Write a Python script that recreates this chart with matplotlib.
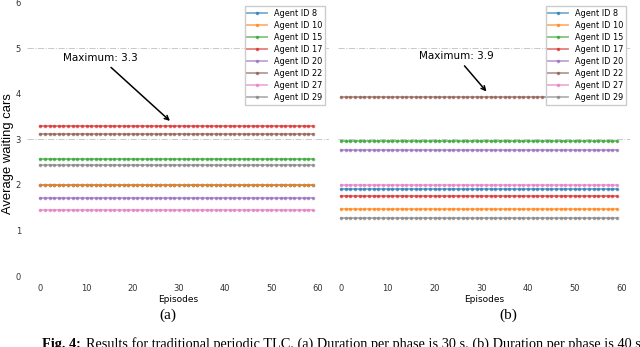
import numpy as np
import matplotlib.pyplot as plt

episodes = np.arange(0, 60)
agent_ids = [8, 10, 15, 17, 20, 22, 27, 29]

# average waiting cars per agent (constant over episodes for periodic TLC)
wait_30s = [2.00, 2.00, 2.56, 3.28, 1.71, 3.11, 1.44, 2.43]
wait_40s = [1.91, 1.48, 2.95, 1.75, 2.76, 3.92, 2.00, 1.28]

max_labels = ["Maximum: 3.3", "Maximum: 3.9"]
panel_labels = ["(a)", "(b)"]
caption_bold = "Fig. 4:"
caption_text = ("Results for traditional periodic TLC. (a) Duration per phase is 30 s. "
                "(b) Duration per phase is 40 s.")

colors = plt.get_cmap("tab10").colors

W, H = 640, 347
fig = plt.figure(figsize=(6.4, 3.47), dpi=100)
ax_a = fig.add_axes([27 / W, 1 - 276 / H, 302 / W, 273.6 / H])
ax_b = fig.add_axes([337.7 / W, 1 - 276 / H, 292.3 / W, 273.6 / H])


def draw_panel(ax, values, xlim, show_y):
    for aid, v, c in zip(agent_ids, values, colors):
        ax.plot(episodes, np.full(len(episodes), v), color=c, marker="o",
                markersize=1.6, lw=1.3, alpha=0.6, label=f"Agent ID {aid}")
    for yy in [0, 3, 5]:
        ax.axhline(yy, color="#c8c8c8", ls="-.", lw=0.7, zorder=0)
    ax.set_xlim(*xlim)
    ax.set_ylim(0, 6)
    ax.set_xticks(range(0, 61, 10))
    ax.set_yticks(range(0, 7))
    for s in ax.spines.values():
        s.set_visible(False)
    ax.tick_params(length=0, labelsize=6, colors="#333333")
    ax.tick_params(axis="x", pad=6)
    ax.tick_params(axis="y", pad=4.3)
    if not show_y:
        ax.tick_params(labelleft=False)
    ax.set_xlabel("Episodes", fontsize=6.5, labelpad=1)
    ax.legend(loc="upper right", fontsize=5.9, handlelength=2.4, labelspacing=0.36,
              borderpad=0.35, framealpha=1, edgecolor="#cccccc", fancybox=False)


draw_panel(ax_a, wait_30s, (-2.9, 62.5), True)
draw_panel(ax_b, wait_40s, (-0.7, 61.8), False)

ax_a.set_ylabel("Average waiting cars", fontsize=9.4, family="Liberation Sans")
ax_a.yaxis.set_label_coords(-0.044, 0.446)

ax_a.annotate(max_labels[0], xy=(28.5, 3.36), xytext=(13, 4.72), fontsize=7.5,
              ha="center", arrowprops=dict(arrowstyle="->", color="black", lw=1.1))
ax_b.annotate(max_labels[1], xy=(31.5, 4.0), xytext=(24.6, 4.76), fontsize=7.5,
              ha="center", arrowprops=dict(arrowstyle="->", color="black", lw=1.1))

fig.text(168 / W, 1 - 315 / H, panel_labels[0], ha="center", va="center",
         fontsize=11, family="Liberation Serif")
fig.text(508 / W, 1 - 315 / H, panel_labels[1], ha="center", va="center",
         fontsize=11, family="Liberation Serif")

cap_y = 1 - 348 / H
t_bold = fig.text(42 / W, cap_y, caption_bold, ha="left", va="baseline",
                  fontsize=10.3, family="Liberation Serif", weight="bold")
fig.canvas.draw()
bb = t_bold.get_window_extent(fig.canvas.get_renderer())
fig.text(bb.x1 / W + 5 / W, cap_y, caption_text, ha="left", va="baseline",
         fontsize=10.3, family="Liberation Serif")

fig.savefig("out.png", dpi=100)
